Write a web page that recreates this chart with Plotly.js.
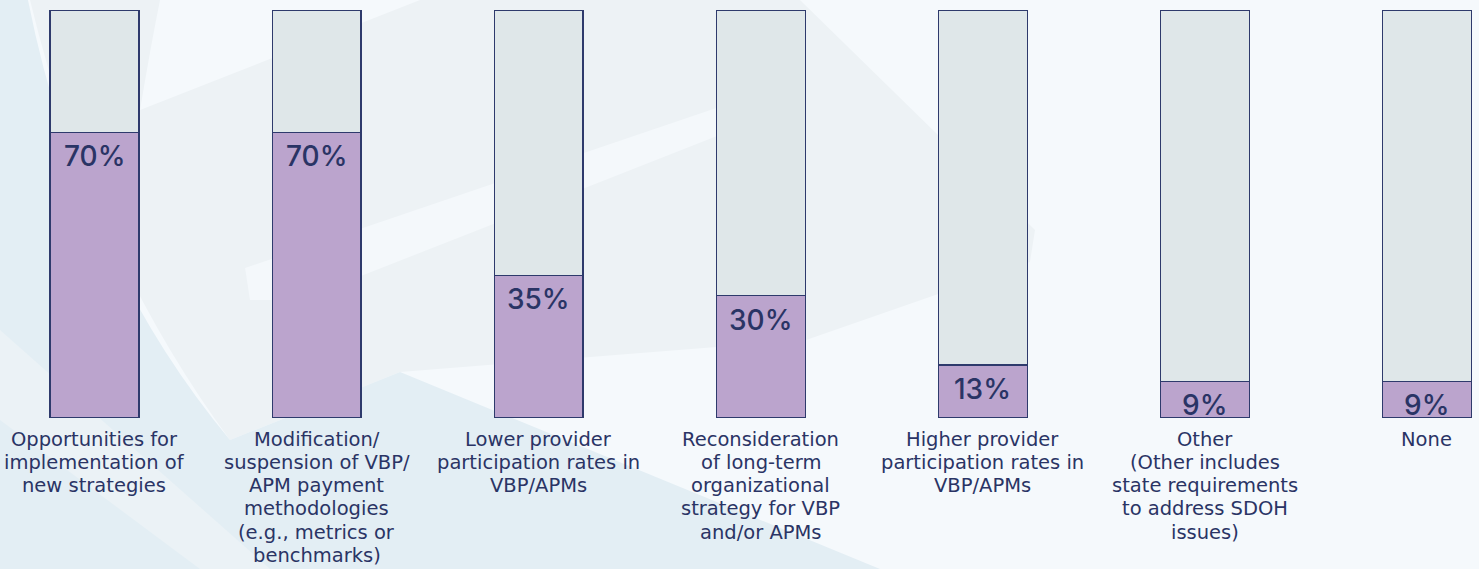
<!DOCTYPE html>
<html>
<head>
<meta charset="utf-8">
<script src="https://cdn.plot.ly/plotly-3.0.1.min.js"></script>
<style>
html,body{margin:0;padding:0;background:#f5f9fc;}
#chart{width:1479px;height:569px;}
</style>
</head>
<body>
<div id="chart"></div>
<script>
// ---- data ----
const categories = [
  "Opportunities for<br>implementation of<br>new strategies",
  "Modification/<br>suspension of VBP/<br>APM payment<br>methodologies<br>(e.g., metrics or<br>benchmarks)",
  "Lower provider<br>participation rates in<br>VBP/APMs",
  "Reconsideration<br>of long-term<br>organizational<br>strategy for VBP<br>and/or APMs",
  "Higher provider<br>participation rates in<br>VBP/APMs",
  "Other<br>(Other includes<br>state requirements<br>to address SDOH<br>issues)",
  "None"
];
const percentValues = [70, 70, 35, 30, 13, 9, 9];
const remainderValues = [30, 30, 65, 70, 87, 91, 91];
const valueLabels = ["70%", "70%", "35%", "30%", "13%", "9%", "9%"];

// ---- layout helpers ----
const W = 1479, H = 569, T = 10, B = 151;
const plotH = H - T - B;
function px(x){ return (x / W).toFixed(4); }
function py(y){ return ((H - B - y) / plotH).toFixed(4); }
function pt(p){ return px(p[0]) + ',' + py(p[1]); }
function path(segs){
  return segs.map(s => s[0] + s.slice(1).map(pt).join(' ')).join(' ') + ' Z';
}
function bg(segs, color){
  return {type:'path', xref:'paper', yref:'paper', layer:'below',
          path: path(segs), fillcolor: color, line:{width:0}};
}

const idx = categories.map((_, i) => i);
const outline = {color:'#2e3a6c', width:1.3};

const traces = [
  {type:'bar', x: idx, y: percentValues, width:0.4,
   marker:{color:'#bba4cd', line: outline}, hoverinfo:'skip'},
  {type:'bar', x: idx, y: remainderValues, width:0.4,
   marker:{color:'#dfe7e9', line: outline}, hoverinfo:'skip'}
];

const annotations = idx.map(i => ({
  x: i, y: percentValues[i], xref:'x', yref:'y',
  text: valueLabels[i], showarrow:false, yanchor:'top', yshift:-5,
  font:{family:'Inter, Lato, sans-serif', size:28, color:'#2a3465', weight:500}
}));

// category labels: one annotation per line, ~23px line pitch, under each bar
const LINE0 = 439, PITCH = 23.3;
idx.forEach(i => {
  categories[i].split('<br>').forEach((line, k) => {
    annotations.push({
      x: i, xref:'x', y: Number(py(LINE0 + PITCH * k)), yref:'paper',
      text: line, showarrow:false, yanchor:'middle', xanchor:'center',
      borderpad:0,
      font:{family:'"DejaVu Sans", sans-serif', size:19.5, color:'#2a3465'}
    });
  });
});

const shapes = [
  bg([['M',[30,0]],['L',[800,0]],['L',[1035,230]],['L',[1030,262]],['L',[806,340]],
      ['L',[400,372]],['L',[230,440]],['Q',[90,250],[30,0]]], '#edf2f5'),
  bg([['M',[0,0]],['L',[28,0]],['Q',[80,260],[230,440]],['L',[400,372]],['L',[880,569]],['L',[0,569]]], '#e3eef4'),
  bg([['M',[0,330]],['L',[0,420]],['L',[200,569]],['L',[270,569]]], '#ebf2f6'),
  bg([['M',[160,0]],['L',[420,0]],['L',[140,110]],['Q',[150,50],[160,0]]], '#f5f9fc'),
  bg([['M',[245,268]],['L',[740,100]],['L',[745,125]],['L',[300,300]],['L',[250,300]]], '#f4f8fb')
];

const layout = {
  width: W, height: H,
  margin:{l:0, r:0, t:T, b:B, pad:0},
  paper_bgcolor:'#f5f9fc', plot_bgcolor:'rgba(0,0,0,0)',
  barmode:'stack', showlegend:false,
  xaxis:{range:[-0.4255, 6.2343], tickvals: idx, showticklabels:false,
         showgrid:false, zeroline:false, showline:false, ticks:'', fixedrange:true},
  yaxis:{range:[0,100], visible:false, showgrid:false, zeroline:false, fixedrange:true},
  annotations: annotations,
  shapes: shapes
};

Plotly.newPlot('chart', traces, layout, {displayModeBar:false, staticPlot:true});
</script>
</body>
</html>
